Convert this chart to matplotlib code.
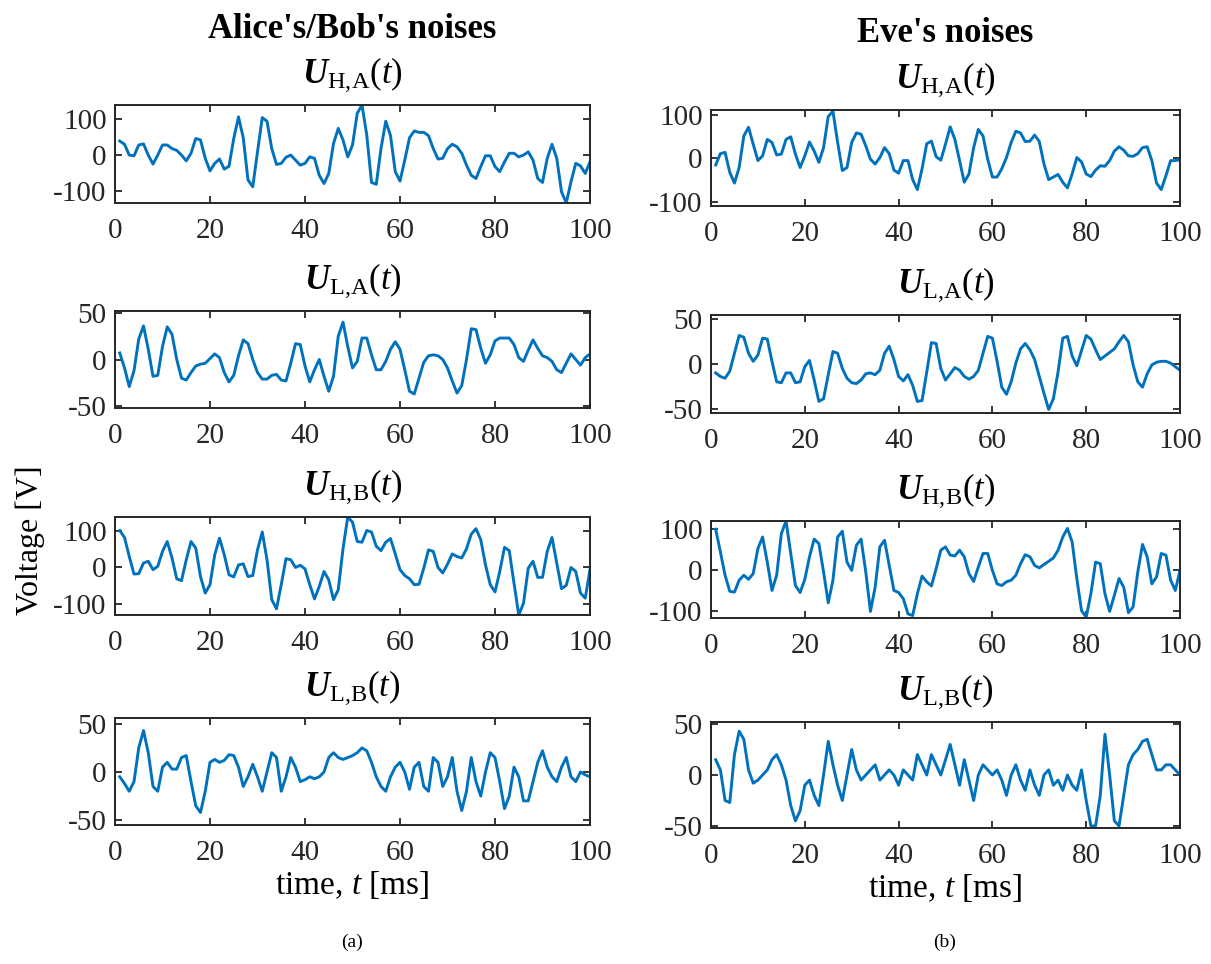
import numpy as np
import matplotlib
matplotlib.use("Agg")
import matplotlib.pyplot as plt

# time axis [ms]
t = np.arange(1, 101)

# Alice's / Bob's noise voltages [V]
u_ha_ab = [39, 30, 0, -2, 28, 31, 0, -25, 0, 28, 28, 18, 13, 0, -16, 5, 46, 42, -9, -44,
           -23, -11, -39, -31, 46, 106, 48, -69, -88, 9, 104, 94, 18, -26, -23, -6, 0, -14, -28, -23,
           -5, -9, -56, -79, -51, 32, 74, 42, -5, 28, 116, 139, 56, -76, -81, 18, 94, 54, -46, -72,
           -14, 48, 67, 63, 63, 54, 18, -11, -9, 18, 30, 23, 5, -28, -56, -65, -32, -2, -2, -32,
           -46, -19, 5, 5, -5, 0, 9, -14, -65, -76, -9, 30, -9, -102, -133, -74, -23, -30, -51, -19]
u_la_ab = [7, -9, -29, -12, 22, 36, 11, -18, -17, 14, 35, 27, 0, -20, -22, -14, -7, -5, -4, 1,
           6, 2, -14, -24, -17, 4, 21, 17, 0, -14, -21, -21, -17, -16, -22, -23, -4, 17, 16, -7,
           -24, -11, 0, -18, -34, -18, 25, 40, 14, -9, -2, 23, 23, 5, -11, -11, -2, 11, 19, 11,
           -11, -34, -37, -20, -3, 4, 5, 4, 0, -9, -23, -36, -28, 0, 33, 32, 12, -4, 5, 20,
           23, 23, 23, 16, 2, -2, 10, 21, 12, 4, 2, -2, -11, -14, -4, 6, 0, -6, 2, 6]
u_hb_ab = [100, 81, 29, -19, -18, 11, 16, -7, 2, 43, 70, 25, -32, -37, 20, 70, 52, -26, -71, -48,
           34, 79, 34, -21, -27, 6, 9, -26, -23, 47, 96, 20, -89, -114, -48, 23, 20, -1, 5, -5,
           -48, -87, -53, -12, -35, -89, -62, 50, 137, 123, 70, 68, 100, 96, 57, 45, 68, 78, 36, -7,
           -23, -32, -48, -47, -3, 47, 43, -1, -16, 8, 36, 29, 25, 50, 90, 105, 75, 6, -48, -68,
           -12, 54, 45, -44, -131, -99, -3, 16, -28, -28, 43, 81, 11, -59, -50, -1, -12, -71, -85, -7]
u_lb_ab = [-5, -12, -20, -10, 25, 43, 20, -15, -20, 5, 10, 3, 3, 15, 17, -10, -35, -42, -20, 10,
           13, 10, 12, 18, 17, 5, -15, -5, 8, -5, -20, 0, 20, 15, -20, -5, 15, 5, -10, -8,
           -5, -7, -5, 0, 15, 20, 15, 13, 15, 17, 20, 25, 22, 10, -5, -15, -20, -5, 5, 10,
           0, -18, 5, 10, -15, -20, 15, 10, -15, -5, 15, -20, -40, -20, 15, -10, -25, 0, 20, 15,
           -10, -38, -25, 5, -5, -30, -30, -10, 10, 22, 5, -5, -10, 5, 15, -5, -10, 0, -3, -5]

# Eve's noise voltages [V]
u_ha_e = [-15, 11, 14, -32, -57, -21, 52, 72, 33, -5, 6, 44, 37, 8, 10, 44, 50, 10, -21, 6,
          38, 17, -9, 25, 97, 109, 37, -28, -21, 37, 59, 56, 29, -2, -13, 2, 25, 11, -27, -34,
          -5, -5, -49, -72, -24, 34, 40, 4, -4, 33, 73, 44, -5, -55, -36, 25, 67, 52, -2, -43,
          -43, -24, 2, 37, 63, 59, 39, 40, 54, 39, -13, -49, -43, -37, -55, -68, -36, 2, -8, -36,
          -42, -27, -17, -18, -5, 17, 27, 19, 6, 5, 11, 25, 27, -5, -57, -72, -40, -5, -5, -3]
u_la_e = [-10, -14, -16, -8, 12, 32, 30, 12, 3, 10, 29, 28, 3, -20, -21, -10, -10, -21, -20, -3,
          4, -18, -42, -39, -12, 14, 12, -5, -16, -21, -22, -18, -11, -10, -12, -7, 12, 20, 5, -14,
          -19, -12, -24, -42, -41, -9, 24, 23, -5, -18, -11, -4, -7, -14, -17, -14, -7, 12, 31, 29,
          3, -26, -34, -20, 1, 17, 23, 16, 5, -14, -33, -51, -39, -9, 29, 31, 9, -2, 15, 32,
          28, 16, 5, 9, 13, 17, 25, 32, 25, -1, -20, -26, -11, -1, 2, 3, 3, 1, -3, -7]
u_hb_e = [100, 45, -12, -51, -53, -24, -12, -22, -8, 53, 81, 20, -49, -12, 89, 120, 41, -37, -54, -22,
          33, 76, 65, -4, -79, -24, 81, 95, 20, 0, 61, 76, -4, -100, -41, 57, 73, 12, -49, -54,
          -69, -106, -110, -57, -14, -28, -38, 4, 49, 57, 37, 35, 49, 33, -8, -27, 8, 41, 41, 0,
          -33, -37, -28, -24, -12, 16, 38, 33, 12, 6, 14, 22, 30, 49, 81, 102, 69, -20, -98, -114,
          -57, 20, 16, -57, -100, -61, -20, -41, -103, -89, -4, 63, 33, -33, -16, 41, 37, -24, -49, 0]
u_lb_e = [15, 5, -25, -27, 20, 43, 35, 5, -8, -5, 0, 5, 15, 20, 10, -5, -30, -45, -35, -10,
          -5, -20, -30, 0, 33, 10, -10, -25, 0, 25, 5, -5, 0, 5, 10, -5, 0, 5, 0, -10,
          5, 0, -5, 20, 10, 0, 20, 10, 0, 15, 30, 10, -10, 15, -5, -25, 0, 10, 5, 0,
          5, -5, -20, 0, 10, -5, -15, 5, -10, -20, 0, 5, -10, -5, -15, 0, -10, -15, 5, -25,
          -50, -50, -20, 40, 0, -45, -50, -20, 10, 20, 25, 33, 35, 20, 5, 5, 10, 10, 5, 0]

titles = [r"$\mathbf{U}_{\mathrm{H{,}A}}(t)$", r"$\mathbf{U}_{\mathrm{L{,}A}}(t)$",
          r"$\mathbf{U}_{\mathrm{H{,}B}}(t)$", r"$\mathbf{U}_{\mathrm{L{,}B}}(t)$"]
x_ticks = [0, 20, 40, 60, 80, 100]

plt.rcParams.update({
    "font.family": ["Liberation Serif", "DejaVu Serif"],
    "mathtext.fontset": "custom",
    "mathtext.rm": "Liberation Serif",
    "mathtext.it": "Liberation Serif:italic",
    "mathtext.bf": "Liberation Serif:bold:italic",
    "axes.unicode_minus": False,
    "axes.edgecolor": "#262626",
    "xtick.color": "#262626",
    "ytick.color": "#262626",
})

W, H = 1211, 964
fig = plt.figure(figsize=(W / 100, H / 100), dpi=100)
line_color = "#0072BD"

columns = [
    {"series": [u_ha_ab, u_la_ab, u_hb_ab, u_lb_ab],
     "ylims": [(-133, 139), (-52, 52), (-131, 137), (-55, 56)],
     "x": (115, 590),
     "rows": [(105, 203), (311, 408), (517, 615), (718, 825)]},
    {"series": [u_ha_e, u_la_e, u_hb_e, u_lb_e],
     "ylims": [(-110, 112), (-55, 55), (-116, 120), (-52, 52)],
     "x": (711, 1180),
     "rows": [(110, 206), (315, 413), (521, 618), (722, 828)]},
]

for col in columns:
    x0, x1 = col["x"]
    for i, (top, bot) in enumerate(col["rows"]):
        ax = fig.add_axes([x0 / W, 1 - bot / H, (x1 - x0) / W, (bot - top) / H])
        ax.plot(t, col["series"][i], color=line_color, lw=2.1)
        ax.set_xlim(0, 100)
        ax.set_ylim(*col["ylims"][i])
        ax.set_xticks(x_ticks)
        big = col["ylims"][i][1] > 80
        ax.set_yticks([-100, 0, 100] if big else [-50, 0, 50])
        ax.tick_params(direction="in", length=5, width=1.3, labelsize=21,
                       top=True, right=True)
        ax.tick_params(axis="x", pad=11)
        ax.tick_params(axis="y", pad=6)
        for s in ax.spines.values():
            s.set_linewidth(1.4)
        ax.set_title(titles[i], fontsize=25, pad=16)
        if i == 3:
            ax.set_xlabel(r"time, $t$ [ms]", fontsize=24, labelpad=2)

fig.text(352 / W, 1 - 30 / H, "Alice's/Bob's noises", ha="center", va="center",
         fontsize=25, fontweight="bold")
fig.text(945 / W, 1 - 34 / H, "Eve's noises", ha="center", va="center",
         fontsize=25, fontweight="bold")
fig.text(30 / W, 1 - 540 / H, "Voltage [V]", ha="center", va="center",
         rotation=90, fontsize=23)
fig.text(352 / W, 1 - 942 / H, "(a)", ha="center", va="center", fontsize=14)
fig.text(945 / W, 1 - 942 / H, "(b)", ha="center", va="center", fontsize=14)

fig.savefig("out.png", dpi=100, facecolor="white")
